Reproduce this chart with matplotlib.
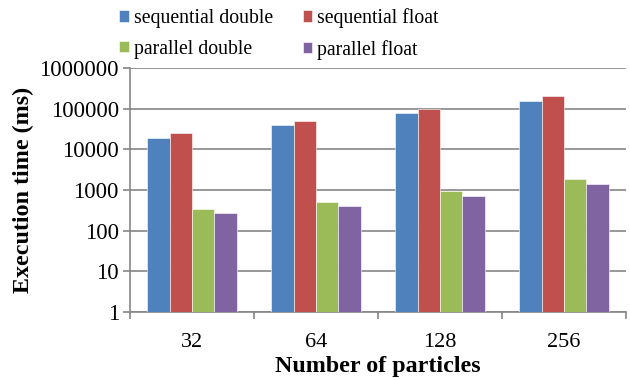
import matplotlib
matplotlib.use("Agg")
import matplotlib.pyplot as plt
import numpy as np

categories = ["32", "64", "128", "256"]
series_names = ["sequential double", "sequential float", "parallel double", "parallel float"]
seq_double = [19500, 39000, 78000, 155000]
seq_float = [25000, 51000, 100000, 205000]
par_double = [335, 505, 930, 1820]
par_float = [268, 404, 700, 1400]
yticks = [1, 10, 100, 1000, 10000, 100000, 1000000]
colors = ["#4F81BD", "#C0504D", "#9BBB59", "#8064A2"]

plt.rcParams['font.family'] = ['Liberation Serif', 'DejaVu Serif']

fig = plt.figure(figsize=(6.3, 3.8), dpi=100)
ax = fig.add_axes([130/630, 1-312/380, 496/630, 244/380])

x = np.arange(len(categories))
w = 0.18
data = [seq_double, seq_float, par_double, par_float]
handles = []
for i, (vals, c, name) in enumerate(zip(data, colors, series_names)):
    b = ax.bar(x + (i - 1.5) * w, vals, width=w, color=c, label=name, zorder=3,
               edgecolor="#FFFFFF", linewidth=0.4)
    handles.append(b)

ax.set_yscale('log')
ax.set_ylim(1, 1000000)
ax.set_yticks(yticks)
ax.set_yticklabels([str(v) for v in yticks])
ax.yaxis.set_minor_locator(matplotlib.ticker.NullLocator())
ax.set_xlim(-0.5, len(categories) - 0.5)
ax.set_xticks(x)
ax.set_xticklabels(categories)
ax.set_xticks(np.arange(len(categories) + 1) - 0.5, minor=True)
ax.tick_params(axis='x', which='major', length=0, labelsize=16, pad=15)
ax.tick_params(axis='x', which='minor', length=5, color="#868686", width=1.2)
ax.tick_params(axis='y', length=5, color="#868686", width=1.2, labelsize=16.5, pad=3)

ax.grid(axis='y', color="#868686", linewidth=1.2, zorder=0)
for s in ['top', 'right']:
    ax.spines[s].set_visible(False)
for s in ['left', 'bottom']:
    ax.spines[s].set_color("#868686")
    ax.spines[s].set_linewidth(1.2)

ax.set_xlabel("Number of particles", fontsize=17.3, fontweight='bold', labelpad=3)
ax.set_ylabel("Execution time (ms)", fontsize=17.3, fontweight='bold', labelpad=4)

order = [0, 2, 1, 3]
fig.legend(handles=[handles[i] for i in order], labels=[series_names[i] for i in order],
           ncol=2, loc='upper left',
           bbox_to_anchor=(119/630, 1 - 8/380), frameon=False, fontsize=14.2,
           handlelength=0.5, handleheight=0.5, handletextpad=0.25,
           columnspacing=1.5, labelspacing=0.6, borderpad=0, borderaxespad=0)

fig.savefig("out.png", dpi=100)
